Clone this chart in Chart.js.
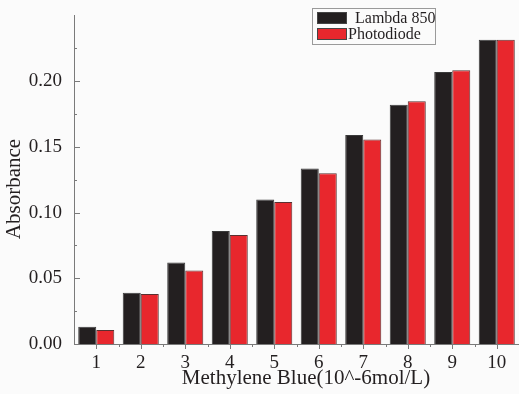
<!DOCTYPE html>
<html>
<head>
<meta charset="utf-8">
<script src="https://cdn.jsdelivr.net/npm/chart.js@4/dist/chart.umd.min.js"></script>
<style>
  html, body { margin: 0; padding: 0; background: #fbfbfb; }
  #wrap { width: 519px; height: 394px; }
</style>
</head>
<body>
<div id="wrap"><canvas id="absorbance-chart" width="519" height="394"></canvas></div>
<script>
// Absorbance data
const categories = ['1', '2', '3', '4', '5', '6', '7', '8', '9', '10'];
const lambda850 = [0.0131, 0.0390, 0.0620, 0.0860, 0.1100, 0.1336, 0.1590, 0.1820, 0.2070, 0.2315];
const photodiode = [0.0106, 0.0380, 0.0560, 0.0830, 0.1080, 0.1300, 0.1555, 0.1847, 0.2083, 0.2315];
const seriesNames = ['Lambda 850', 'Photodiode'];
const xTitle = 'Methylene Blue(10^-6mol/L)';
const yTitle = 'Absorbance';
const yMax = 0.25;

const serif = "'Liberation Serif', 'DejaVu Serif', serif";
const axisColor = '#7a7a7a';
const textColor = '#231f20';

// tick marks: y ticks point into the plot, x ticks point down
const tickMarks = {
    id: 'tickMarks',
    afterDraw(chart) {
        const ctx = chart.ctx;
        const x = chart.scales.x, y = chart.scales.y;
        const area = chart.chartArea;
        ctx.save();
        ctx.strokeStyle = axisColor;
        ctx.lineWidth = 1;
        ctx.beginPath();
        for (let v = 0; v < yMax - 1e-9; v += 0.025) {
            const py = Math.round(y.getPixelForValue(v)) + 0.5;
            const major = Math.round(v / 0.025) % 2 === 0;
            ctx.moveTo(area.left, py);
            ctx.lineTo(area.left + (major ? 6 : 3), py);
        }
        const step = x.getPixelForValue(1) - x.getPixelForValue(0);
        categories.forEach((c, i) => {
            const px = Math.round(x.getPixelForValue(i)) + 0.5;
            ctx.moveTo(px, area.bottom);
            ctx.lineTo(px, area.bottom + 5);
            const bx = Math.round(x.getPixelForValue(i) + step / 2) + 0.5;
            ctx.moveTo(bx, area.bottom);
            ctx.lineTo(bx, area.bottom + 3);
        });
        ctx.stroke();

        // axis titles
        ctx.fillStyle = textColor;
        ctx.font = '21px ' + serif;
        ctx.textAlign = 'center';
        ctx.textBaseline = 'middle';
        ctx.fillText(xTitle, 306, 378);
        ctx.translate(14, 189);
        ctx.rotate(-Math.PI / 2);
        ctx.fillText(yTitle, 0, 0);
        ctx.restore();
    }
};

// boxed legend in the top right corner
const boxLegend = {
    id: 'boxLegend',
    afterDraw(chart) {
        const ctx = chart.ctx;
        ctx.save();
        ctx.fillStyle = '#fbfbfb';
        ctx.fillRect(312, 8, 123, 36);
        ctx.strokeStyle = '#9a9a9a';
        ctx.lineWidth = 1;
        ctx.strokeRect(312.5, 8.5, 123, 36);
        const ds = chart.data.datasets;
        ctx.font = '16px ' + serif;
        ctx.textBaseline = 'middle';
        ds.forEach((d, i) => {
            const top = 12 + i * 16;
            ctx.fillStyle = d.backgroundColor;
            ctx.fillRect(317, top, 30, 12);
            ctx.strokeStyle = '#444';
            ctx.strokeRect(317.5, top + 0.5, 29, 11);
            ctx.fillStyle = textColor;
            ctx.fillText(d.label, i === 0 ? 355 : 348, top + 6.5);
        });
        ctx.restore();
    }
};

new Chart(document.getElementById('absorbance-chart'), {
    type: 'bar',
    data: {
        labels: categories,
        datasets: [
            { label: seriesNames[0], data: lambda850, backgroundColor: '#231f20', borderColor: '#3a3a3a', borderWidth: 1 },
            { label: seriesNames[1], data: photodiode, backgroundColor: '#e8272d', borderColor: '#5a3030', borderWidth: 1 }
        ]
    },
    options: {
        responsive: false,
        animation: false,
        layout: { padding: { top: 12, right: 0, left: 0, bottom: 0 } },
        datasets: { bar: { categoryPercentage: 0.81, barPercentage: 1.0 } },
        plugins: { legend: { display: false }, tooltip: { enabled: false } },
        scales: {
            x: {
                grid: { display: false },
                border: { display: true, color: axisColor, width: 1 },
                ticks: { color: textColor, font: { family: serif, size: 19 }, padding: 0, maxRotation: 0 },
                afterFit(scale) { scale.height = 50; }
            },
            y: {
                min: 0,
                max: yMax,
                grid: { display: false },
                border: { display: true, color: axisColor, width: 1 },
                ticks: {
                    stepSize: 0.05,
                    color: textColor,
                    font: { family: serif, size: 19 },
                    padding: 4,
                    callback: v => (v > 0.24 ? '' : v.toFixed(2))
                },
                afterFit(scale) { scale.width = 74; }
            }
        }
    },
    plugins: [tickMarks, boxLegend]
});
</script>
</body>
</html>
